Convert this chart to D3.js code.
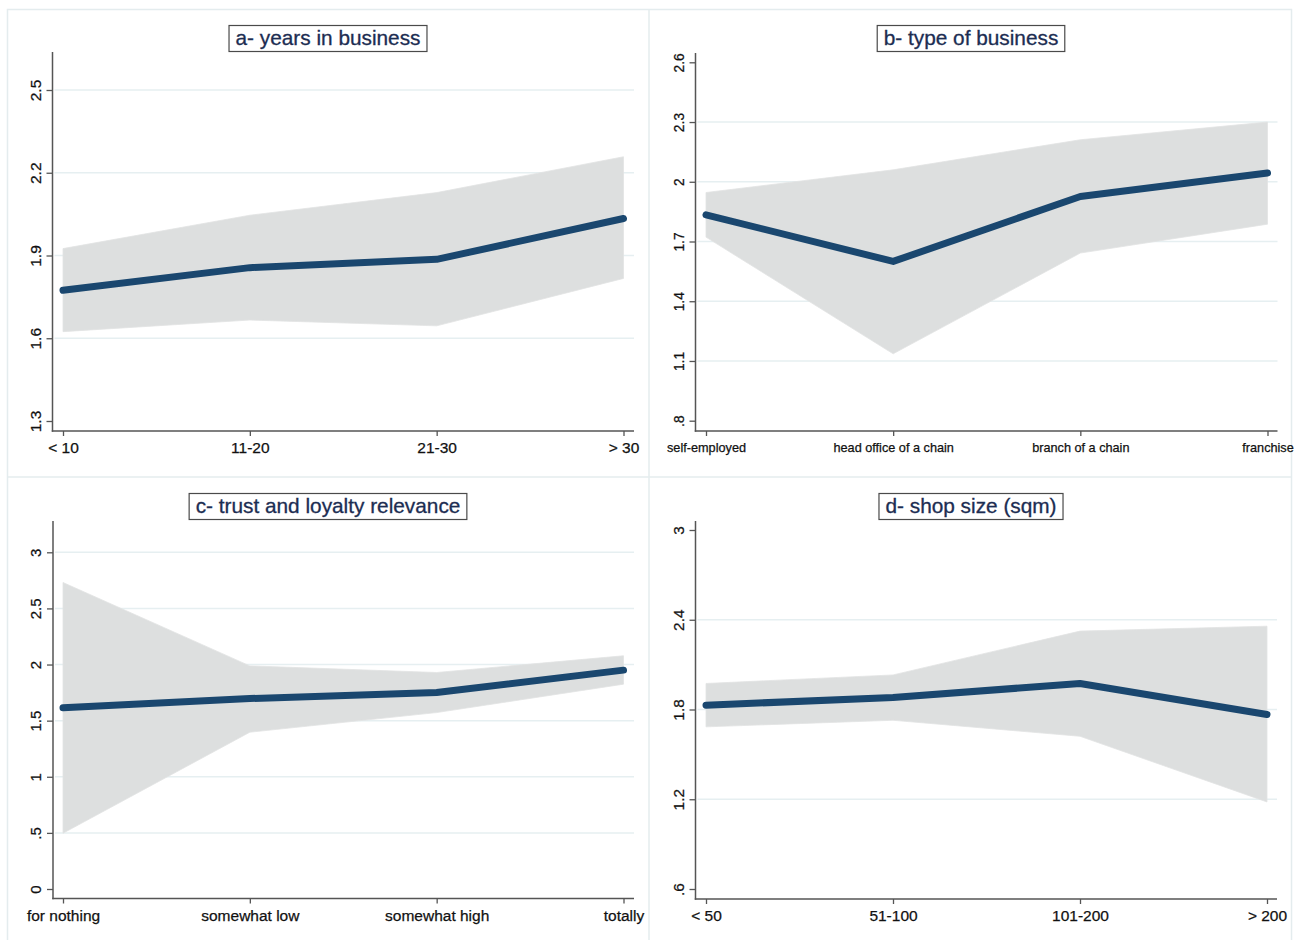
<!DOCTYPE html>
<html><head><meta charset="utf-8">
<script src="https://cdn.jsdelivr.net/npm/d3@7"></script>
<style>body{margin:0;background:#fff} svg{display:block;font-family:"Liberation Sans",Arial,Helvetica,sans-serif}</style>
</head><body><svg id="chart" width="1296" height="940"></svg>
<script>
// ---- data ----
const titleA = "a- years in business";
const catsA = ["< 10", "11-20", "21-30", "> 30"];
const meanA = [1.774, 1.856, 1.886, 2.034];
const lowA  = [1.624, 1.666, 1.645, 1.817];
const highA = [1.925, 2.046, 2.128, 2.258];
const ticksA = [1.3, 1.6, 1.9, 2.2, 2.5];
const tickLabelsA = ["1.3", "1.6", "1.9", "2.2", "2.5"];

const titleB = "b- type of business";
const catsB = ["self-employed", "head office of a chain", "branch of a chain", "franchise"];
const meanB = [1.834, 1.600, 1.926, 2.044];
const lowB  = [1.722, 1.136, 1.642, 1.787];
const highB = [1.946, 2.060, 2.211, 2.300];
const ticksB = [0.8, 1.1, 1.4, 1.7, 2.0, 2.3, 2.6];
const tickLabelsB = [".8", "1.1", "1.4", "1.7", "2", "2.3", "2.6"];

const titleC = "c- trust and loyalty relevance";
const catsC = ["for nothing", "somewhat low", "somewhat high", "totally"];
const meanC = [1.614, 1.697, 1.750, 1.950];
const lowC  = [0.497, 1.397, 1.572, 1.825];
const highC = [2.731, 1.988, 1.929, 2.078];
const ticksC = [0, 0.5, 1, 1.5, 2, 2.5, 3];
const tickLabelsC = ["0", ".5", "1", "1.5", "2", "2.5", "3"];

const titleD = "d- shop size (sqm)";
const catsD = ["< 50", "51-100", "101-200", "> 200"];
const meanD = [1.829, 1.880, 1.974, 1.767];
const lowD  = [1.684, 1.728, 1.621, 1.182];
const highD = [1.974, 2.031, 2.324, 2.357];
const ticksD = [0.6, 1.2, 1.8, 2.4, 3.0];
const tickLabelsD = [".6", "1.2", "1.8", "2.4", "3"];

// ---- layout ----
const svg = d3.select("#chart");
const borderColor = "#e4ecee";
const gridColor = "#e6eff1";
const axisColor = "#555";
const lineColor = "#1a476f";
const bandColor = "#dddfdf";
const titleColor = "#1c2d52";
const FONT = '"Liberation Sans",Arial,Helvetica,sans-serif';

// panel frame lines
svg.append("rect").attr("x", 7.5).attr("y", 9.5).attr("width", 1284).attr("height", 960)
  .attr("fill", "none").attr("stroke", borderColor).attr("stroke-width", 1.5);
svg.append("line").attr("x1", 649).attr("x2", 649).attr("y1", 9).attr("y2", 940)
  .attr("stroke", borderColor).attr("stroke-width", 1.5);
svg.append("line").attr("x1", 7).attr("x2", 1292).attr("y1", 477).attr("y2", 477)
  .attr("stroke", borderColor).attr("stroke-width", 1.5);

const panels = [
  {title: titleA, cats: catsA, mean: meanA, low: lowA, high: highA, ticks: ticksA, labels: tickLabelsA,
   cx: 328, left: 52.5, right: 634, x0: 63, x1: 623.5, top: 52, axisY: 431, yr: [421, 90],
   titleTop: 25.5, xFont: 15.5, yFont: 15.5},
  {title: titleB, cats: catsB, mean: meanB, low: lowB, high: highB, ticks: ticksB, labels: tickLabelsB,
   cx: 971, left: 695.5, right: 1277.5, x0: 706, x1: 1267.5, top: 53, axisY: 431, yr: [420.7, 62.3],
   titleTop: 25.5, xFont: 12.7, yFont: 13.8},
  {title: titleC, cats: catsC, mean: meanC, low: lowC, high: highC, ticks: ticksC, labels: tickLabelsC,
   cx: 328, left: 53, right: 634, x0: 63, x1: 623.5, top: 521, axisY: 898.5, yr: [889, 552.3],
   titleTop: 493.5, xFont: 15.5, yFont: 15},
  {title: titleD, cats: catsD, mean: meanD, low: lowD, high: highD, ticks: ticksD, labels: tickLabelsD,
   cx: 971, left: 695.5, right: 1277, x0: 706, x1: 1267, top: 521, axisY: 899, yr: [889, 530],
   titleTop: 493.5, xFont: 15.5, yFont: 15.3}
];

panels.forEach(p => {
  const g = svg.append("g");
  const x = d3.scalePoint().domain(p.cats).range([p.x0, p.x1]);
  const y = d3.scaleLinear().domain([d3.min(p.ticks), d3.max(p.ticks)]).range(p.yr);

  // gridlines (skip those too close to the axis ends, as Stata does)
  p.ticks.forEach(t => {
    const py = y(t);
    if (py - p.top > 15 && p.axisY - py > 15) {
      g.append("line").attr("x1", p.left + 2).attr("x2", p.right).attr("y1", py).attr("y2", py)
        .attr("stroke", gridColor).attr("stroke-width", 1.5);
    }
  });

  // CI band
  const rows = p.cats.map((c, i) => ({c, m: p.mean[i], lo: p.low[i], hi: p.high[i]}));
  const area = d3.area().x(d => x(d.c)).y0(d => y(d.lo)).y1(d => y(d.hi));
  g.append("path").attr("d", area(rows)).attr("fill", bandColor).attr("stroke", "#e2e3e3").attr("stroke-width", 0.8);

  // mean line
  const line = d3.line().x(d => x(d.c)).y(d => y(d.m));
  g.append("path").attr("d", line(rows)).attr("fill", "none").attr("stroke", lineColor)
    .attr("stroke-width", 7).attr("stroke-linecap", "round").attr("stroke-linejoin", "round");

  // y axis
  const yAxis = d3.axisLeft(y).tickValues(p.ticks).tickSize(6).tickPadding(5)
    .tickFormat((d, i) => p.labels[i]);
  const ya = g.append("g").attr("transform", `translate(${p.left},0)`).call(yAxis);
  ya.select(".domain").remove();
  ya.selectAll(".tick line").attr("stroke", axisColor).attr("stroke-width", 1.3);
  ya.selectAll(".tick text").attr("transform", "rotate(-90)").attr("x", 0).attr("y", -12)
    .attr("dy", 0).attr("text-anchor", "middle").attr("fill", "#111")
    .attr("stroke", "#111").attr("stroke-width", 0.25)
    .style("font-size", p.yFont + "px").style("font-family", FONT);
  g.append("line").attr("x1", p.left).attr("x2", p.left).attr("y1", p.top).attr("y2", p.axisY + 0.75)
    .attr("stroke", axisColor).attr("stroke-width", 1.5);

  // x axis
  const xAxis = d3.axisBottom(x).tickSize(5).tickPadding(6);
  const xa = g.append("g").attr("transform", `translate(0,${p.axisY})`).call(xAxis);
  xa.select(".domain").remove();
  xa.selectAll(".tick line").attr("stroke", axisColor).attr("stroke-width", 1.3);
  xa.selectAll(".tick text").attr("fill", "#111").attr("y", 0).attr("dy", p.xFont < 14 ? 20.8 : 22)
    .attr("stroke", "#111").attr("stroke-width", 0.25)
    .style("font-size", p.xFont + "px").style("font-family", FONT);
  g.append("line").attr("x1", p.left - 0.75).attr("x2", p.right).attr("y1", p.axisY).attr("y2", p.axisY)
    .attr("stroke", axisColor).attr("stroke-width", 1.5);

  // title box
  const box = g.append("rect");
  const tt = g.append("text").attr("x", p.cx).attr("y", p.titleTop + 19).attr("text-anchor", "middle")
    .attr("fill", titleColor).attr("stroke", titleColor).attr("stroke-width", 0.3)
    .style("font-size", "20.8px").style("font-family", FONT).text(p.title);
  const w = tt.node().getComputedTextLength();
  box.attr("x", p.cx - w / 2 - 6.5).attr("y", p.titleTop)
    .attr("width", w + 13).attr("height", 26).attr("fill", "#fff").attr("stroke", "#4a4a4a").attr("stroke-width", 1.2);
});
</script></body></html>
